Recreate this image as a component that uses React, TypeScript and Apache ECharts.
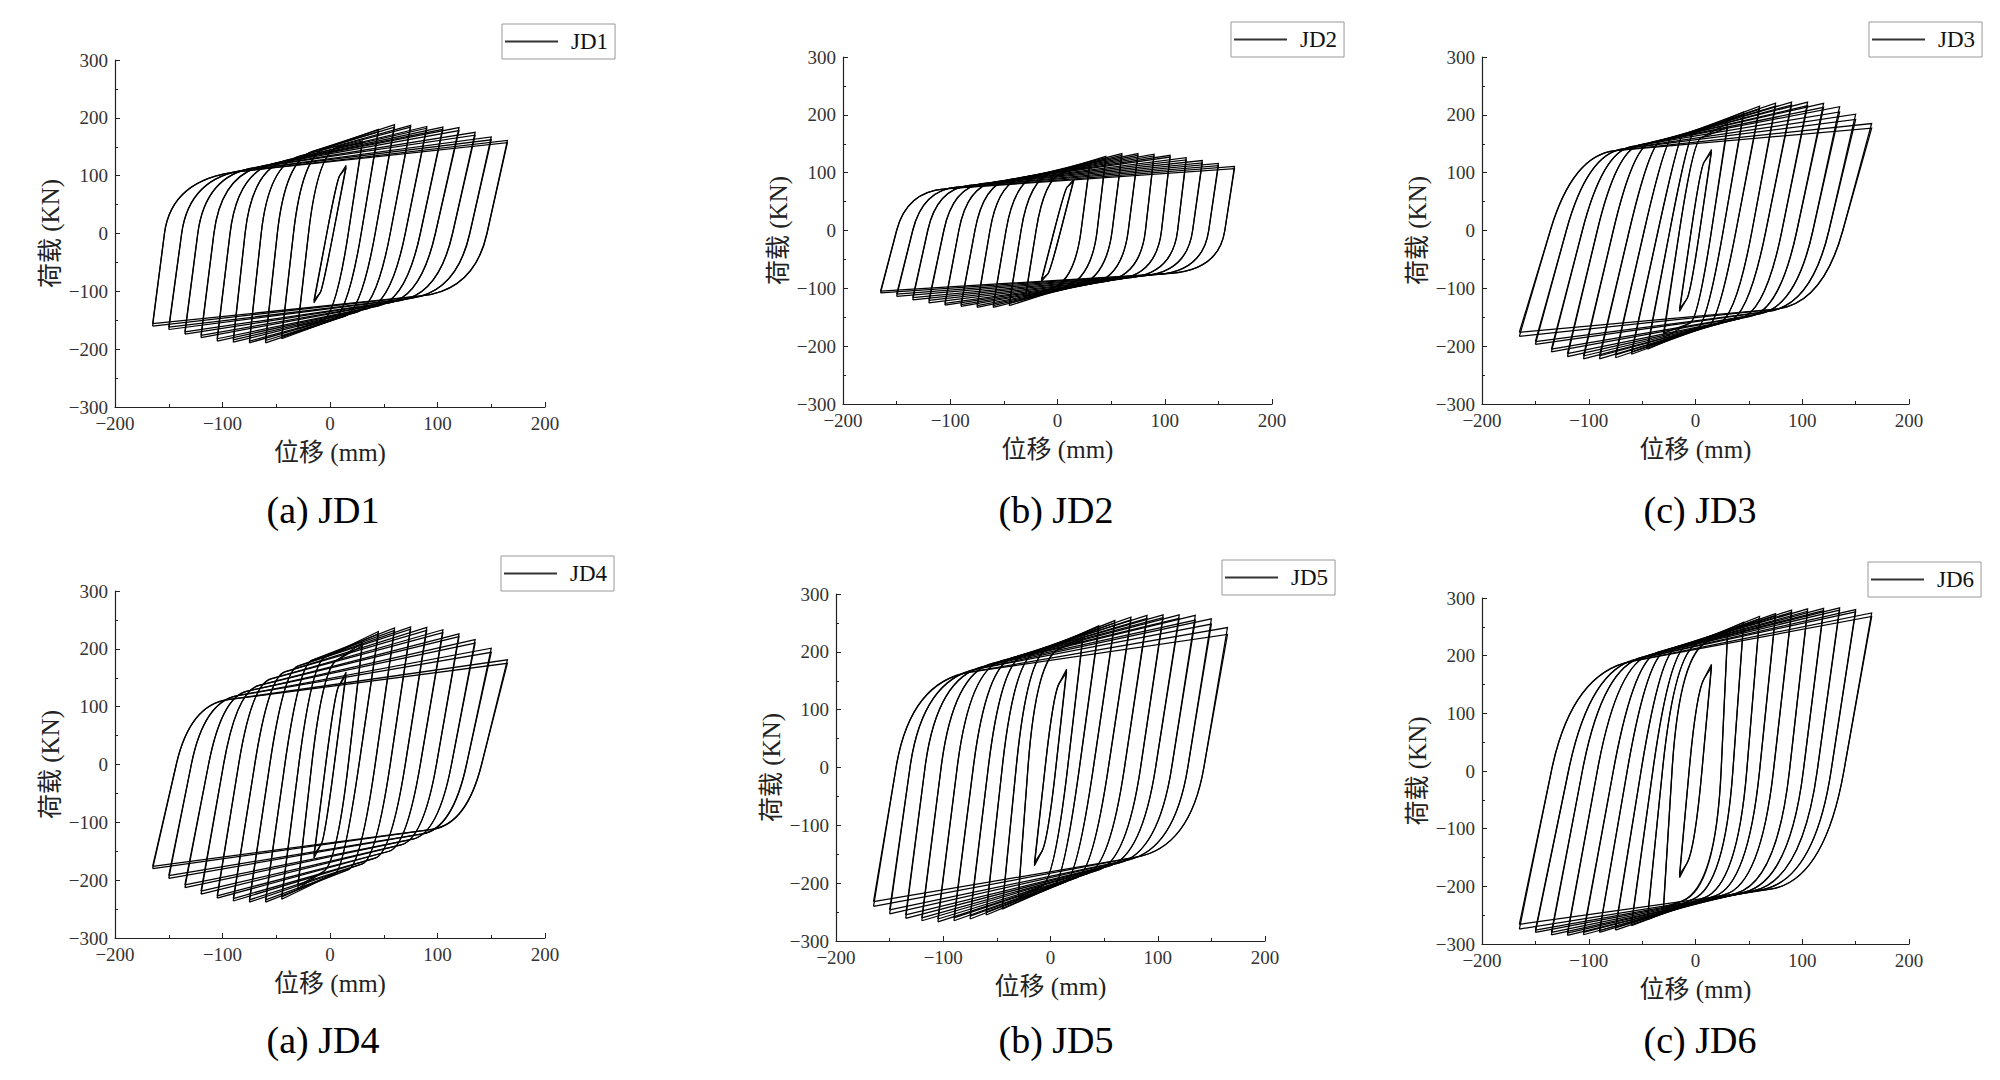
import React, { useEffect, useRef } from "react";
import * as echarts from "echarts";

// displacement amplitudes of the loading cycles (mm)
const AMPS = [15, 30, 45, 60, 75, 90, 105, 120, 135, 150, 165];

const X_NAME = "位移 (mm)";
const Y_NAME = "荷载 (KN)";

// ---- JD1 ----
const JD1_TOP1 = [118, 160, 180, 188, 187, 185, 184, 183, 175, 167, 161];
const JD1_TOP2 = [114, 156, 176, 184, 184, 182, 180, 178, 170, 162, 157];
const JD1_BOT1 = [-120, -165, -182, -189, -189, -188, -186, -180, -174, -166, -160];
const JD1_BOT2 = [-116, -160, -178, -185, -186, -184, -182, -176, -170, -162, -156];
const JD1_ZR = [-3, -20, -34, -49, -64, -79, -93, -108, -123, -138, -154];
const JD1_KR = [[9, 100], [8, 150], [-4, 148], [-16, 142], [-28, 134], [-40, 127], [-50, 122], [-60, 118], [-70, 114], [-78, 110], [-85, 107]];
const JD1_ZF = [3, 17, 29, 42, 56, 70, 84, 98, 114, 130, 146];
const JD1_KF = [[-9, -102], [-8, -152], [2, -150], [14, -143], [25, -136], [35, -130], [45, -125], [55, -120], [65, -116], [75, -112], [85, -108]];

// ---- JD2 ----
const JD2_TOP1 = [88, 115, 128, 133, 133, 132, 130, 126, 121, 116, 111];
const JD2_TOP2 = [85, 111, 124, 130, 130, 129, 127, 122, 117, 112, 107];
const JD2_BOT1 = [-88, -118, -130, -133, -133, -131, -129, -125, -120, -114, -108];
const JD2_BOT2 = [-85, -114, -126, -130, -130, -128, -126, -121, -116, -110, -105];
const JD2_ZR = [-3, -20, -34, -48, -63, -77, -92, -106, -121, -135, -150];
const JD2_KR = [[9, 75], [5, 100], [-5, 100], [-18, 96], [-32, 92], [-45, 88], [-58, 84], [-70, 81], [-82, 78], [-94, 75], [-105, 72]];
const JD2_ZF = [3, 22, 37, 51, 66, 82, 97, 112, 126, 141, 156];
const JD2_KF = [[-9, -75], [-5, -100], [5, -100], [18, -96], [32, -92], [45, -88], [58, -84], [70, -81], [82, -78], [94, -76], [105, -74]];

// ---- JD3 ----
const JD3_TOP1 = [140, 185, 205, 215, 220, 222, 222, 220, 214, 201, 185];
const JD3_TOP2 = [136, 178, 200, 210, 215, 217, 216, 213, 205, 192, 177];
const JD3_BOT1 = [-140, -185, -205, -214, -220, -222, -222, -218, -210, -197, -183];
const JD3_BOT2 = [-136, -178, -200, -210, -215, -217, -217, -213, -205, -192, -176];
const JD3_ZR = [-4, -15, -24, -35, -48, -62, -77, -92, -106, -121, -136];
const JD3_KR = [[8, 118], [5, 160], [-2, 168], [-12, 165], [-22, 160], [-32, 156], [-42, 152], [-52, 148], [-60, 145], [-68, 141], [-75, 138]];
const JD3_ZF = [4, 15, 26, 38, 53, 66, 81, 95, 110, 125, 138];
const JD3_KF = [[-8, -118], [-5, -160], [2, -168], [12, -165], [22, -160], [32, -156], [42, -152], [52, -148], [60, -144], [68, -140], [75, -136]];

// ---- JD4 ----
const JD4_TOP1 = [160, 210, 230, 236, 238, 237, 233, 226, 216, 201, 181];
const JD4_TOP2 = [155, 205, 226, 232, 234, 232, 228, 221, 210, 194, 175];
const JD4_BOT1 = [-162, -215, -233, -238, -238, -236, -231, -224, -213, -197, -180];
const JD4_BOT2 = [-157, -210, -229, -234, -234, -232, -227, -219, -208, -192, -176];
const JD4_ZR = [-4, -17, -29, -42, -56, -70, -85, -99, -113, -129, -143];
const JD4_KR = [[8, 135], [6, 180], [-5, 185], [-17, 180], [-30, 170], [-42, 160], [-55, 148], [-66, 137], [-77, 127], [-86, 119], [-95, 112]];
const JD4_ZF = [4, 17, 27, 42, 56, 70, 84, 99, 113, 127, 141];
const JD4_KF = [[-8, -137], [-6, -185], [5, -188], [17, -182], [30, -172], [42, -162], [55, -150], [66, -139], [77, -129], [86, -120], [95, -112]];

// ---- JD5 ----
const JD5_TOP1 = [170, 225, 245, 254, 260, 263, 264, 264, 263, 257, 242];
const JD5_TOP2 = [165, 220, 240, 250, 255, 258, 259, 258, 255, 248, 230];
const JD5_BOT1 = [-170, -225, -245, -255, -262, -265, -267, -265, -261, -253, -240];
const JD5_BOT2 = [-165, -220, -240, -250, -257, -260, -262, -260, -255, -246, -232];
const JD5_ZR = [-5, -21, -32, -45, -58, -72, -87, -102, -117, -131, -144];
const JD5_KR = [[8, 145], [8, 205], [-3, 205], [-14, 200], [-25, 195], [-35, 190], [-45, 185], [-54, 180], [-62, 175], [-69, 170], [-75, 165]];
const JD5_ZF = [5, 16, 27, 40, 54, 69, 84, 98, 113, 128, 143];
const JD5_KF = [[-8, -145], [-8, -205], [3, -205], [14, -198], [25, -190], [35, -183], [45, -177], [55, -170], [64, -165], [72, -160], [80, -155]];

// ---- JD6 ----
const JD6_TOP1 = [185, 240, 258, 268, 273, 279, 281, 282, 283, 280, 274];
const JD6_TOP2 = [180, 236, 254, 264, 269, 275, 277, 278, 279, 276, 268];
const JD6_BOT1 = [-185, -240, -258, -268, -276, -280, -284, -285, -284, -280, -274];
const JD6_BOT2 = [-180, -236, -254, -264, -272, -277, -280, -281, -280, -276, -266];
const JD6_ZR = [-6, -22, -31, -40, -51, -64, -77, -92, -106, -119, -135];
const JD6_KR = [[8, 160], [12, 225], [2, 222], [-8, 218], [-18, 214], [-27, 210], [-35, 206], [-42, 202], [-49, 198], [-55, 194], [-60, 190]];
const JD6_ZF = [6, 24, 35, 48, 60, 73, 88, 101, 114, 127, 139];
const JD6_KF = [[-8, -160], [-12, -225], [-2, -222], [8, -220], [18, -217], [28, -214], [38, -212], [46, -210], [54, -208], [62, -206], [70, -205]];

const NAMES = ["JD1", "JD2", "JD3", "JD4", "JD5", "JD6"];
const CAPTIONS = ["(a) JD1", "(b) JD2", "(c) JD3", "(a) JD4", "(b) JD5", "(c) JD6"];

const PANELS = [
  { top1: JD1_TOP1, top2: JD1_TOP2, bot1: JD1_BOT1, bot2: JD1_BOT2, zr: JD1_ZR, kr: JD1_KR, zf: JD1_ZF, kf: JD1_KF },
  { top1: JD2_TOP1, top2: JD2_TOP2, bot1: JD2_BOT1, bot2: JD2_BOT2, zr: JD2_ZR, kr: JD2_KR, zf: JD2_ZF, kf: JD2_KF },
  { top1: JD3_TOP1, top2: JD3_TOP2, bot1: JD3_BOT1, bot2: JD3_BOT2, zr: JD3_ZR, kr: JD3_KR, zf: JD3_ZF, kf: JD3_KF },
  { top1: JD4_TOP1, top2: JD4_TOP2, bot1: JD4_BOT1, bot2: JD4_BOT2, zr: JD4_ZR, kr: JD4_KR, zf: JD4_ZF, kf: JD4_KF },
  { top1: JD5_TOP1, top2: JD5_TOP2, bot1: JD5_BOT1, bot2: JD5_BOT2, zr: JD5_ZR, kr: JD5_KR, zf: JD5_ZF, kf: JD5_KF },
  { top1: JD6_TOP1, top2: JD6_TOP2, bot1: JD6_BOT1, bot2: JD6_BOT2, zr: JD6_ZR, kr: JD6_KR, zf: JD6_ZF, kf: JD6_KF },
];

// layout (pixels)
const GRIDS = [
  { left: 115, top: 60, width: 430, height: 347 },
  { left: 843, top: 57, width: 429, height: 347 },
  { left: 1482, top: 57, width: 427, height: 347 },
  { left: 115, top: 591, width: 430, height: 347 },
  { left: 836, top: 594, width: 429, height: 347 },
  { left: 1482, top: 598, width: 427, height: 346 },
];
const LEGEND_POS = [
  [502, 24], [1231, 22], [1869, 22], [501, 556], [1222, 560], [1868, 562],
];
const CAPTION_POS = [
  [323, 510], [1056, 510], [1700, 510], [323, 1040], [1056, 1040], [1700, 1040],
];

const SERIF = '"Liberation Serif", "Times New Roman", serif';
const MIX = '"Liberation Serif", "Noto Sans CJK SC", serif';

const fmt = (v: number) => String(v).replace("-", "\u2212");

function ctrl(S: number[], A: number[], K: number[], E: number[]) {
  const dx1 = A[0] - S[0], dy1 = A[1] - S[1];
  const dx2 = E[0] - K[0], dy2 = E[1] - K[1];
  const den = dx1 * dy2 - dy1 * dx2;
  const mid = [(A[0] + K[0]) / 2, (A[1] + K[1]) / 2];
  if (Math.abs(den) < 1e-9) return mid;
  const t = ((K[0] - S[0]) * dy2 - (K[1] - S[1]) * dx2) / den;
  const u = ((K[0] - S[0]) * dy1 - (K[1] - S[1]) * dx1) / den;
  if (t < 1 || u > 0 || t > 6) return mid;
  return [S[0] + t * dx1, S[1] + t * dy1];
}

function makeRender(p: any) {
  return (params: any, api: any) => {
    const i = api.value(0);
    const cyc = api.value(1);
    const d = AMPS[i];
    const top = cyc === 0 ? p.top1[i] : p.top2[i];
    const bot = cyc === 0 ? p.bot1[i] : p.bot2[i];
    const P0 = api.coord([-d, bot]);
    const A = api.coord([p.zr[i], 0]);
    const K = api.coord(p.kr[i]);
    const P3 = api.coord([d, top]);
    const B = api.coord([p.zf[i], 0]);
    const KF = api.coord(p.kf[i]);
    const C1 = ctrl(P0, A, K, P3);
    const C2 = ctrl(P3, B, KF, P0);
    const f = (q: number[]) => q[0].toFixed(2) + " " + q[1].toFixed(2);
    const pathData =
      "M" + f(P0) + "L" + f(A) + "Q" + f(C1) + " " + f(K) + "L" + f(P3) +
      "L" + f(B) + "Q" + f(C2) + " " + f(KF) + "L" + f(P0);
    return {
      type: "path",
      shape: { pathData },
      style: { fill: "none", stroke: "#000", lineWidth: 1.25 },
      silent: true,
    };
  };
}

function buildOption() {
  const grid = GRIDS.map((g) => ({ ...g, containLabel: false }));
  const axisCommon = {
    type: "value",
    nameLocation: "middle",
    nameTextStyle: { fontSize: 25, fontFamily: MIX, color: "#222" },
    axisLine: { show: true, onZero: false, lineStyle: { color: "#222", width: 1.2 } },
    axisTick: { show: true, inside: true, length: 5, lineStyle: { color: "#222" } },
    minorTick: { show: true, splitNumber: 2, length: 3, lineStyle: { color: "#222" } },
    splitLine: { show: false },
    axisLabel: { fontSize: 19, fontFamily: SERIF, color: "#333", margin: 7, formatter: fmt },
  };
  const xAxis = GRIDS.map((_, k) => ({
    ...axisCommon,
    gridIndex: k,
    min: -200,
    max: 200,
    interval: 100,
    name: X_NAME,
    nameGap: 33,
  }));
  const yAxis = GRIDS.map((_, k) => ({
    ...axisCommon,
    gridIndex: k,
    min: -300,
    max: 300,
    interval: 100,
    name: Y_NAME,
    nameGap: 52,
    nameRotate: 90,
  }));
  const items: number[][] = [];
  AMPS.forEach((_, i) => {
    items.push([i, 0]);
    items.push([i, 1]);
  });
  const series = PANELS.map((p, k) => ({
    type: "custom",
    name: NAMES[k],
    coordinateSystem: "cartesian2d",
    xAxisIndex: k,
    yAxisIndex: k,
    data: items,
    renderItem: makeRender(p),
    itemStyle: { color: "#333" },
    silent: true,
    clip: false,
  }));
  const legend = NAMES.map((n, k) => ({
    data: [{ name: n, icon: "rect" }],
    left: LEGEND_POS[k][0],
    top: LEGEND_POS[k][1],
    orient: "horizontal",
    padding: [6, 7, 6, 3],
    itemWidth: 53,
    itemHeight: 2,
    borderColor: "#999",
    borderWidth: 1,
    borderRadius: 0,
    selectedMode: false,
    itemStyle: { color: "#333", borderWidth: 0 },
    textStyle: { fontSize: 23, fontFamily: SERIF, color: "#111", padding: [0, 0, 0, 8] },
  }));
  const graphic = CAPTIONS.map((c, k) => ({
    type: "text",
    x: CAPTION_POS[k][0],
    y: CAPTION_POS[k][1],
    style: {
      text: c,
      font: '38px "Liberation Serif"',
      fill: "#000",
      textAlign: "center",
      textVerticalAlign: "middle",
      align: "center",
      verticalAlign: "middle",
    },
  }));
  return {
    animation: false,
    backgroundColor: "#fff",
    grid,
    xAxis,
    yAxis,
    series,
    legend,
    graphic,
  };
}

export default function App() {
  const ref = useRef<HTMLDivElement>(null);
  useEffect(() => {
    if (!ref.current) return;
    const chart = echarts.init(ref.current, undefined, { renderer: "svg" });
    chart.setOption(buildOption() as any);
    return () => chart.dispose();
  }, []);
  return (
    <div
      ref={ref}
      style={{ position: "absolute", left: 0, top: 0, width: 2000, height: 1080, background: "#fff" }}
    />
  );
}
